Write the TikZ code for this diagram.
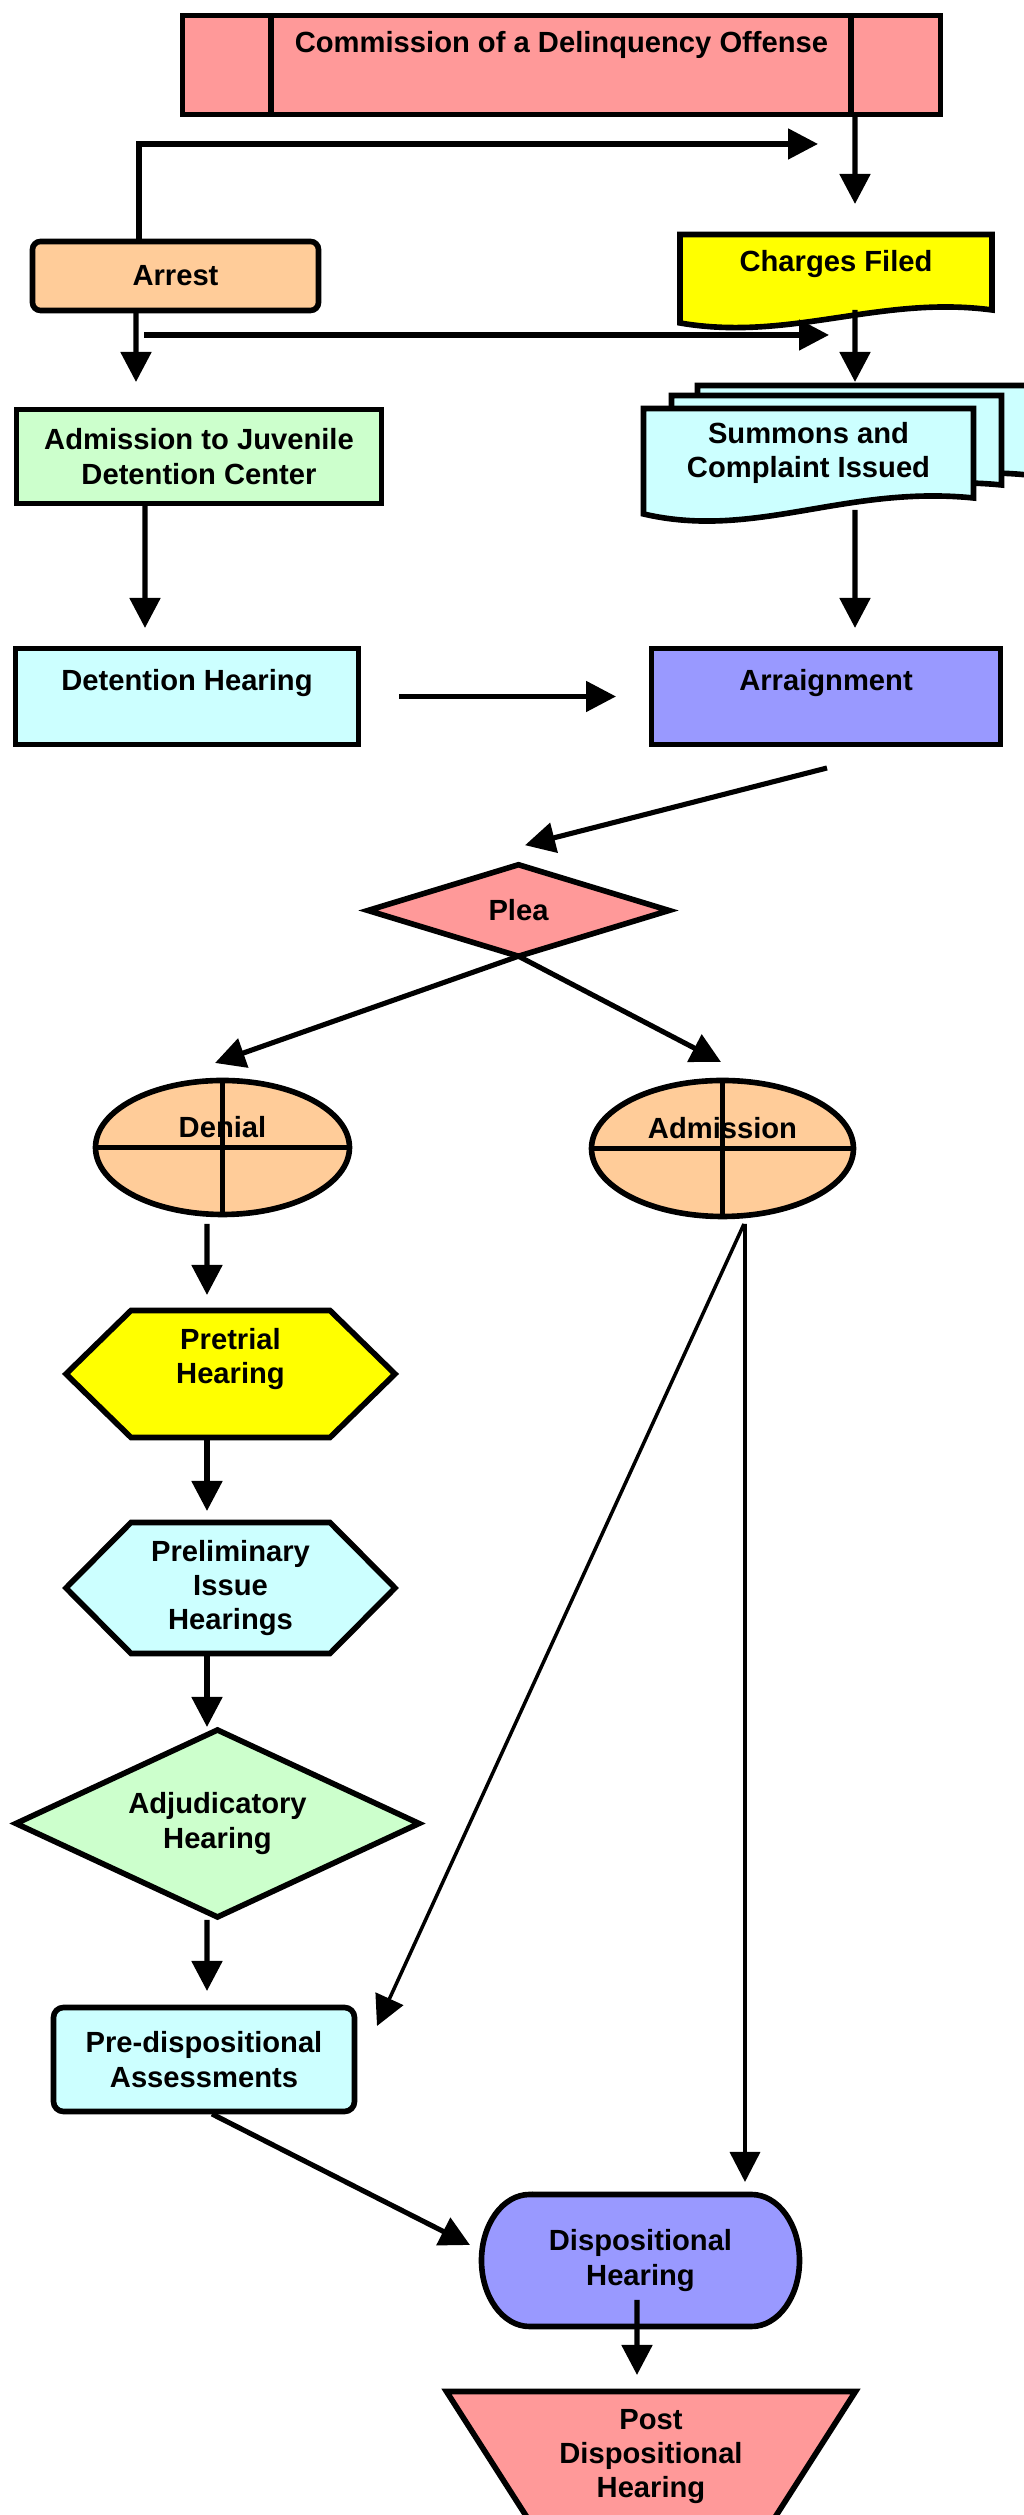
\documentclass[tikz,border=0pt]{standalone}
\usepackage{fontspec}
\setmainfont{Liberation Sans}
\usetikzlibrary{arrows.meta,shapes.geometric}
\definecolor{pinkfill}{RGB}{255,153,153}
\definecolor{peachfill}{RGB}{255,204,153}
\definecolor{greenfill}{RGB}{204,255,204}
\definecolor{cyanfill}{RGB}{204,255,255}
\definecolor{bluefill}{RGB}{153,153,255}
\definecolor{yellowfill}{RGB}{255,255,0}

\begin{document}
\begin{tikzpicture}[
  lbl/.style={font=\bfseries\fontsize{16.6}{19.5}\selectfont,align=center,inner sep=0pt,outer sep=0pt},
  box/.style={lbl,draw,line width=3.2pt},
  shp/.style={draw,line width=3.2pt},
  flow/.style={line width=2.9pt,-{Triangle[length=0.6cm,width=0.6cm]}},
  thinflow/.style={flow,line width=2pt}
]
\useasboundingbox (0,0) rectangle (20.46,50.3);

\filldraw[shp,fill=yellowfill] (13.6,45.61) -- (19.84,45.61) -- (19.84,44.1) .. controls (17.6,44.4) and (15.8,43.46) .. (13.6,43.84) -- cycle;
\filldraw[shp,fill=cyanfill,shift={(1.08,0.46)}] (12.87,42.13) -- (19.47,42.13) -- (19.47,40.34) .. controls (16.9,40.6) and (15.1,39.5) .. (12.87,40.02) -- cycle;
\filldraw[shp,fill=cyanfill,shift={(0.56,0.26)}] (12.87,42.13) -- (19.47,42.13) -- (19.47,40.34) .. controls (16.9,40.6) and (15.1,39.5) .. (12.87,40.02) -- cycle;
\filldraw[shp,fill=cyanfill] (12.87,42.13) -- (19.47,42.13) -- (19.47,40.34) .. controls (16.9,40.6) and (15.1,39.5) .. (12.87,40.02) -- cycle;
\filldraw[shp,fill=yellowfill] (1.32,22.82) -- (2.62,24.09) -- (6.6,24.09) -- (7.9,22.82) -- (6.6,21.55) -- (2.62,21.55) -- cycle;
\filldraw[shp,fill=cyanfill] (1.32,18.54) -- (2.62,19.85) -- (6.6,19.85) -- (7.9,18.54) -- (6.6,17.23) -- (2.62,17.23) -- cycle;
\filldraw[shp,fill=bluefill] (10.59,6.41) -- (15.03,6.41) arc[start angle=90,end angle=-90,x radius=0.96,y radius=1.32] -- (10.59,3.77) arc[start angle=270,end angle=90,x radius=0.96,y radius=1.32] -- cycle;
\filldraw[shp,fill=pinkfill] (8.93,2.47) -- (17.11,2.47) -- (15.44,-0.14) -- (10.6,-0.14) -- cycle;

\node[box,fill=pinkfill,minimum width=15.16cm,text height=0.74cm,text depth=1.24cm] (com) at (11.23,49.0) {Commission of a Delinquency Offense};
\node[box,fill=peachfill,rounded corners=0.16cm,minimum width=5.72cm,minimum height=1.38cm] (arst) at (3.51,44.78) {Arrest};
\node[lbl,minimum width=6.24cm,text height=0.74cm,text depth=0.77cm] (chg) at (16.72,44.855) {Charges Filed};
\node[box,fill=greenfill,minimum width=7.3cm,minimum height=1.88cm] (adm) at (3.98,41.17) {Admission to Juvenile\\Detention Center};
\node[lbl,minimum width=6.6cm,minimum height=1.79cm] (sum) at (16.17,41.235) {Summons and\\Complaint Issued};
\node[box,fill=cyanfill,minimum width=6.86cm,text height=0.84cm,text depth=1.08cm] (det) at (3.74,36.37) {Detention Hearing};
\node[box,fill=bluefill,minimum width=6.98cm,text height=0.84cm,text depth=1.08cm] (arg) at (16.52,36.37) {Arraignment};
\node[box,diamond,aspect=3.3,fill=pinkfill,minimum width=6.02cm,minimum height=1.83cm] (plea) at (10.37,32.09) {Plea};
\node[box,ellipse,fill=peachfill,minimum width=5.08cm,minimum height=2.68cm,text height=0.3cm,text depth=0.7cm] (den) at (4.45,27.35) {Denial};
\node[box,ellipse,fill=peachfill,minimum width=5.24cm,minimum height=2.72cm,text height=0.3cm,text depth=0.7cm] (ads) at (14.45,27.33) {Admission};
\node[lbl,minimum width=6.58cm,minimum height=1.94cm] (pre) at (4.61,23.12) {Pretrial\\Hearing};
\node[lbl,minimum width=6.58cm,minimum height=2.62cm] (pih) at (4.61,18.54) {Preliminary\\Issue\\Hearings};
\node[box,diamond,aspect=2.15,fill=greenfill,minimum width=8.06cm,minimum height=3.74cm] (adj) at (4.35,13.83) {Adjudicatory\\Hearing};
\node[box,fill=cyanfill,rounded corners=0.2cm,minimum width=6.02cm,minimum height=2.08cm] (pda) at (4.08,9.11) {Pre-dispositional\\Assessments};
\node[lbl,minimum width=6.36cm,minimum height=2.64cm] (dsp) at (12.81,5.09) {Dispositional\\Hearing};
\node[lbl,minimum width=8.18cm,minimum height=2.61cm] (pdh) at (13.02,1.165) {Post\\Dispositional\\Hearing};

\draw[line width=3.2pt] ([xshift=1.77cm]com.north west) -- ([xshift=1.77cm]com.south west);
\draw[line width=3.2pt] ([xshift=-1.79cm]com.north east) -- ([xshift=-1.79cm]com.south east);
\draw[line width=3.2pt] (den.north) -- (den.south) (den.west) -- (den.east);
\draw[line width=3.2pt] (ads.north) -- (ads.south) (ads.west) -- (ads.east);

\coordinate (arst-out) at (16.36,47.42);
\coordinate (adm-side) at (2.88,43.6);
\coordinate (sum-side) at (16.58,43.6);

\draw[flow] ([xshift=5.87cm]com.south) -- ([xshift=0.38cm,yshift=0.61cm]chg.north);
\draw[flow] ([xshift=-0.73cm]arst.north) |- (arst-out);
\draw[flow] ([xshift=-0.79cm]arst.south) -- ([xshift=-1.26cm,yshift=0.55cm]adm.north);
\draw[flow] (adm-side) -- (sum-side);
\draw[flow] ([xshift=0.38cm]chg.south) -- ([xshift=0.93cm,yshift=0.53cm]sum.north);
\draw[flow] ([xshift=-1.08cm]adm.south) -- ([xshift=-0.84cm,yshift=0.41cm]det.north);
\draw[flow] ([xshift=0.93cm,yshift=-0.24cm]sum.south) -- ([xshift=0.58cm,yshift=0.41cm]arg.north);
\draw[flow] ([xshift=0.81cm]det.east) -- ([xshift=-0.71cm]arg.west);
\draw[flow] ([xshift=0.02cm,yshift=-0.47cm]arg.south) -- ([xshift=0.13cm,yshift=0.39cm]plea.north);
\draw[flow] (plea.south) -- ([xshift=-0.15cm,yshift=0.35cm]den.north);
\draw[flow] (plea.south) -- ([xshift=-0.03cm,yshift=0.37cm]ads.north);
\draw[flow] ([xshift=-0.31cm,yshift=-0.19cm]den.south) -- ([xshift=-0.47cm,yshift=0.31cm]pre.north);
\draw[flow] ([xshift=-0.47cm,yshift=-0.65cm]pre.south) -- ([xshift=-0.47cm,yshift=0.23cm]pih.north);
\draw[flow] ([xshift=-0.47cm,yshift=-0.05cm]pih.south) -- ([xshift=-0.21cm,yshift=0.06cm]adj.north);
\draw[flow] ([xshift=-0.21cm,yshift=-0.06cm]adj.south) -- ([xshift=0.06cm,yshift=0.33cm]pda.north);
\draw[thinflow] ([xshift=0.43cm,yshift=-0.15cm]ads.south) -- ([xshift=0.45cm,yshift=-0.37cm]pda.north east);
\draw[thinflow] ([xshift=0.45cm,yshift=-0.15cm]ads.south) -- ([xshift=2.09cm,yshift=0.25cm]dsp.north);
\draw[flow] ([xshift=0.16cm,yshift=-0.05cm]pda.south) -- ([xshift=-0.23cm,yshift=0.31cm]dsp.west);
\draw[flow] ([xshift=-0.07cm,yshift=0.53cm]dsp.south) -- ([xshift=-0.28cm,yshift=0.33cm]pdh.north);
\end{tikzpicture}
\end{document}
